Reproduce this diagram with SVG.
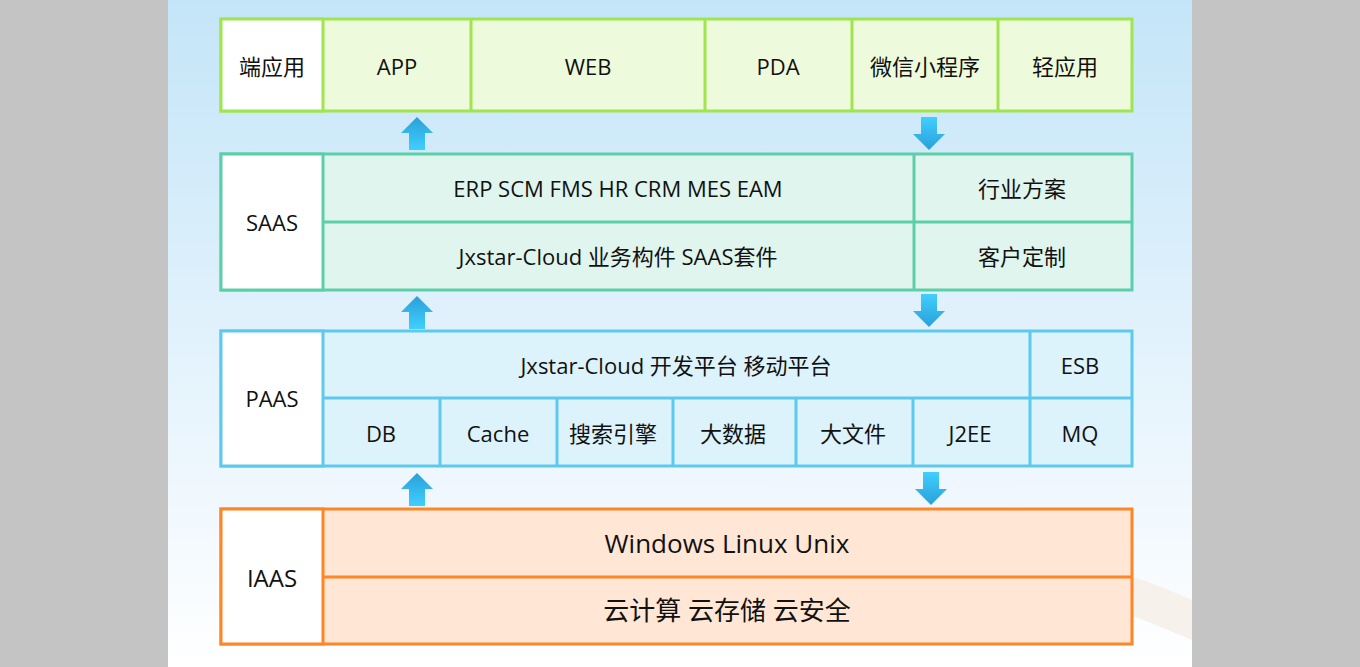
<svg xmlns="http://www.w3.org/2000/svg" width="1360" height="667" viewBox="0 0 1360 667">
<style>
text{font-family:"Open Sans","Noto Sans CJK SC",sans-serif;font-size:22px;fill:#111;text-anchor:middle;dominant-baseline:central}
.big{font-size:26px}
.g{stroke:#9fe54f;stroke-width:3}
.t{stroke:#5ccfa9;stroke-width:3}
.b{stroke:#5ec9ef;stroke-width:3}
.o{stroke:#ff8526;stroke-width:3}
</style>
<defs>
<linearGradient id="bg" x1="0" y1="0" x2="0" y2="1">
<stop offset="0" stop-color="#c4e5f8"/><stop offset="0.75" stop-color="#f0f8fe"/><stop offset="1" stop-color="#ffffff"/>
</linearGradient>
<linearGradient id="ua" x1="0" y1="1" x2="0" y2="0"><stop offset="0" stop-color="#40cfff"/><stop offset="1" stop-color="#2aa0d8"/></linearGradient>
<linearGradient id="da" x1="0" y1="0" x2="0" y2="1"><stop offset="0" stop-color="#40cfff"/><stop offset="1" stop-color="#2aa0d8"/></linearGradient>
<path id="up" d="M0,0 L16,16 L8,16 L8,33 L-8,33 L-8,16 L-16,16 Z" fill="url(#ua)"/>
<path id="dn" d="M0,33 L16,17 L8,17 L8,0 L-8,0 L-8,17 L-16,17 Z" fill="url(#da)"/>
</defs>
<rect width="1360" height="667" fill="#c4c4c4"/>
<rect x="168" width="1024" height="667" fill="url(#bg)"/>
<path d="M1000,540 Q1100,560 1192,600 L1192,640 Q1100,600 1000,570 Z" fill="#f5ede6" opacity="0.8"/>
<g id="row-app">
<rect x="221" y="19" width="911" height="92" fill="#eefadc" class="g"/>
<rect x="221" y="19" width="102" height="92" fill="#fff" class="g"/>
<path d="M471,19V111M705,19V111M852,19V111M998,19V111" class="g"/>
<text x="272" y="66">端应用</text><text x="397" y="66">APP</text><text x="588" y="66">WEB</text><text x="778" y="66">PDA</text><text x="925" y="66">微信小程序</text><text x="1065" y="66">轻应用</text>
</g>
<g id="row-saas">
<rect x="221" y="154" width="911" height="136" fill="#e0f5ee" class="t"/>
<rect x="221" y="154" width="102" height="136" fill="#fff" class="t"/>
<path d="M323,222H1132M914,154V290" class="t"/>
<text x="272" y="222">SAAS</text><text x="618" y="188">ERP SCM FMS HR CRM MES EAM</text><text x="618" y="256">Jxstar-Cloud 业务构件 SAAS套件</text>
<text x="1022" y="188">行业方案</text><text x="1022" y="256">客户定制</text>
</g>
<g id="row-paas">
<rect x="221" y="331" width="911" height="135" fill="#ddf3fb" class="b"/>
<rect x="221" y="331" width="102" height="135" fill="#fff" class="b"/>
<path d="M323,398H1132M1030,331V466M440,398V466M557,398V466M673,398V466M796,398V466M913,398V466" class="b"/>
<text x="272" y="398">PAAS</text><text x="676" y="365">Jxstar-Cloud 开发平台 移动平台</text><text x="1080" y="365">ESB</text>
<text x="381" y="433">DB</text><text x="498" y="433">Cache</text><text x="613" y="433">搜索引擎</text><text x="733" y="433">大数据</text><text x="853" y="433">大文件</text><text x="970" y="433">J2EE</text><text x="1080" y="433">MQ</text>
</g>
<g id="row-iaas">
<rect x="221" y="509" width="911" height="135" fill="#ffe6d5" class="o"/>
<rect x="221" y="509" width="102" height="135" fill="#fff" class="o"/>
<path d="M323,577H1132" class="o"/>
<text x="272" y="577" class="big" style="font-size:24px">IAAS</text><text x="727" y="543" class="big">Windows Linux Unix</text><text x="727" y="610" class="big">云计算 云存储 云安全</text>
</g>
<g id="connectors">
<use href="#up" x="417" y="117"/><use href="#up" x="417" y="296"/><use href="#up" x="417" y="473"/>
<use href="#dn" x="929" y="117"/><use href="#dn" x="929" y="294"/><use href="#dn" x="931" y="472"/>
</g>
</svg>
